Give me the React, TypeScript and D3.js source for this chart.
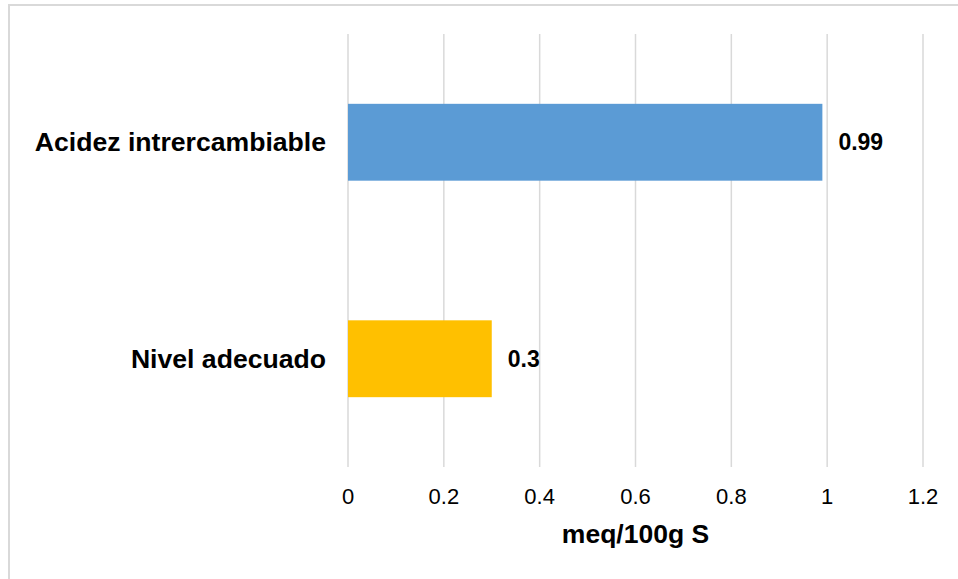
import React from "react";
import * as d3 from "d3";

const categories = ["Acidez intrercambiable", "Nivel adecuado"];
const values = [0.99, 0.3];
const barColors = ["#5B9BD5", "#FFC000"];
const tickValues = [0, 0.2, 0.4, 0.6, 0.8, 1, 1.2];
const axisTitle = "meq/100g S";

const W = 958;
const H = 579;
const FONT = "'Liberation Sans', Arial, sans-serif";

export default function App() {
  const x = d3.scaleLinear().domain([0, 1.2]).range([348, 923]);
  const y = d3
    .scaleBand<string>()
    .domain(categories)
    .range([34, 467])
    .paddingInner(0.645)
    .paddingOuter(0.3225);

  return (
    <div style={{ position: "absolute", left: 0, top: 0 }}>
      <svg width={W} height={H} style={{ display: "block", background: "#fff" }}>
        {/* chart frame */}
        <rect x={9} y={5} width={1000} height={700} fill="none" stroke="#d9d9d9" strokeWidth={2} />

        {/* vertical gridlines */}
        {tickValues.map((t) => (
          <line
            key={"g" + t}
            x1={x(t)}
            x2={x(t)}
            y1={34}
            y2={467}
            stroke="#d9d9d9"
            strokeWidth={1.5}
          />
        ))}

        {/* bars */}
        {categories.map((c, i) => (
          <rect
            key={c}
            x={x(0)}
            y={y(c)}
            width={x(values[i]) - x(0)}
            height={y.bandwidth()}
            fill={barColors[i]}
          />
        ))}

        {/* value labels */}
        {categories.map((c, i) => (
          <text
            key={"v" + c}
            x={x(values[i]) + 16}
            y={(y(c) as number) + y.bandwidth() / 2 + 8}
            fontFamily={FONT}
            fontWeight="bold"
            fontSize={23}
            fill="#000"
          >
            {String(values[i])}
          </text>
        ))}

        {/* category labels */}
        {categories.map((c) => (
          <text
            key={"c" + c}
            x={326}
            y={(y(c) as number) + y.bandwidth() / 2 + 9}
            textAnchor="end"
            fontFamily={FONT}
            fontWeight="bold"
            fontSize={26.6}
            fill="#000"
          >
            {c}
          </text>
        ))}

        {/* x tick labels */}
        {tickValues.map((t) => (
          <text
            key={"t" + t}
            x={x(t)}
            y={504}
            textAnchor="middle"
            fontFamily={FONT}
            fontSize={22}
            fill="#000"
          >
            {String(t)}
          </text>
        ))}

        {/* axis title */}
        <text
          x={(x(0) + x(1.2)) / 2}
          y={543}
          textAnchor="middle"
          fontFamily={FONT}
          fontWeight="bold"
          fontSize={26.5}
          fill="#000"
        >
          {axisTitle}
        </text>
      </svg>
    </div>
  );
}
